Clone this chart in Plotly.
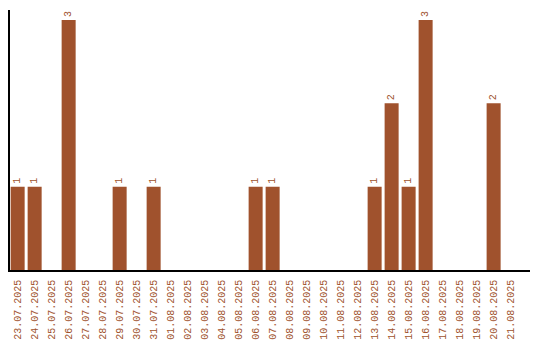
import plotly.graph_objects as go

dates = ["23.07.2025","24.07.2025","25.07.2025","26.07.2025","27.07.2025","28.07.2025",
         "29.07.2025","30.07.2025","31.07.2025","01.08.2025","02.08.2025","03.08.2025",
         "04.08.2025","05.08.2025","06.08.2025","07.08.2025","08.08.2025","09.08.2025",
         "10.08.2025","11.08.2025","12.08.2025","13.08.2025","14.08.2025","15.08.2025",
         "16.08.2025","17.08.2025","18.08.2025","19.08.2025","20.08.2025","21.08.2025"]
counts = [1,1,0,3,0,0,1,0,1,0,0,0,0,0,1,1,0,0,0,0,0,1,2,1,3,0,0,0,2,0]

color = "#A0522D"
labels = [str(v) if v else "" for v in counts]

fig = go.Figure(go.Bar(
    x=dates, y=counts, marker_color=color, marker_line_width=0,
    width=0.824,
    text=labels, textposition="outside", textangle=-90,
    textfont=dict(family="Liberation Mono", size=10, color=color),
    cliponaxis=False,
))
fig.update_layout(
    width=540, height=340,
    margin=dict(l=10, r=10, t=10, b=70),
    paper_bgcolor="white", plot_bgcolor="white",
    showlegend=False,
    xaxis=dict(type="category", range=[-0.45, 30.14], showline=True, linecolor="black",
               linewidth=1.5, showgrid=False, ticks="", tickangle=-90, automargin=False,
               ticklabelstandoff=4,
               tickfont=dict(family="Liberation Mono", size=10, color=color)),
    yaxis=dict(range=[0, 3.12], showline=True, linecolor="black", linewidth=1.5,
               showgrid=False, showticklabels=False, ticks="", zeroline=False,
               automargin=False),
)
fig.write_html("out.html")
